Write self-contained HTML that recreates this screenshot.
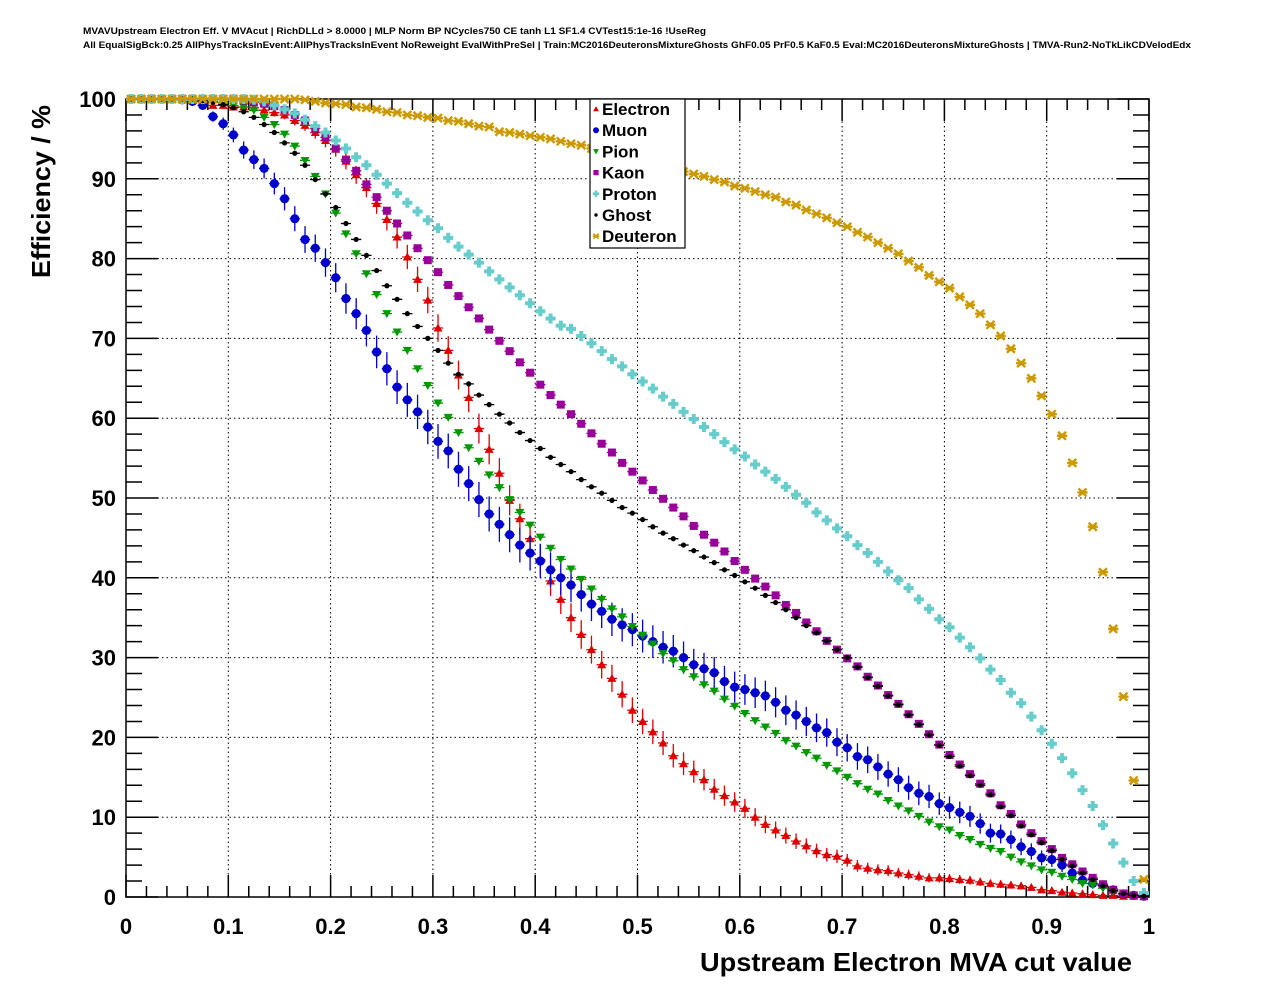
<!DOCTYPE html>
<html><head><meta charset="utf-8"><style>
html,body{margin:0;padding:0;background:#fff;}
svg{display:block;font-family:"Liberation Sans",Arial,sans-serif;}
</style></head><body>
<svg id="chart" width="1276" height="996" viewBox="0 0 1276 996" xmlns="http://www.w3.org/2000/svg">
<rect x="0" y="0" width="1276" height="996" fill="#fff"/>
<text x="83" y="34" font-size="9" font-weight="bold" textLength="623" lengthAdjust="spacingAndGlyphs">MVAVUpstream Electron Eff. V MVAcut | RichDLLd &gt; 8.0000 | MLP Norm BP NCycles750 CE tanh L1 SF1.4 CVTest15:1e-16 !UseReg</text>
<text x="83" y="48" font-size="9" font-weight="bold" textLength="1108" lengthAdjust="spacingAndGlyphs">All EqualSigBck:0.25 AllPhysTracksInEvent:AllPhysTracksInEvent NoReweight EvalWithPreSel | Train:MC2016DeuteronsMixtureGhosts GhF0.05 PrF0.5 KaF0.5 Eval:MC2016DeuteronsMixtureGhosts | TMVA-Run2-NoTkLikCDVelodEdx</text>
<g id="grid"></g>
<g id="axes"></g>
<g id="series"></g>
<text x="50" y="278" font-size="26" font-weight="bold" transform="rotate(-90 50 278)" textLength="173" lengthAdjust="spacingAndGlyphs">Efficiency / %</text>
<text x="700" y="971" font-size="26" font-weight="bold" textLength="432" lengthAdjust="spacingAndGlyphs">Upstream Electron MVA cut value</text>
<g id="legend"></g>
</svg>
<script>
const xTicks=[0,0.1,0.2,0.3,0.4,0.5,0.6,0.7,0.8,0.9,1];
const xTickLabels=["0","0.1","0.2","0.3","0.4","0.5","0.6","0.7","0.8","0.9","1"];
const yTicks=[0,10,20,30,40,50,60,70,80,90,100];
const yTickLabels=["0","10","20","30","40","50","60","70","80","90","100"];
const seriesNames=["Electron","Muon","Pion","Kaon","Proton","Ghost","Deuteron"];
const electron=[100,100,100,100,100,99.9,99.8,99.6,99.2,99.2,99.0,99.0,98.9,98.6,98.3,98.0,97.3,96.7,95.8,94.8,93.7,92.2,90.5,88.9,86.9,84.9,82.7,80.2,77.4,74.8,71.3,68.5,65.4,62.6,58.7,56.1,53.1,49.7,47.4,44.9,42.3,39.6,37.3,35.0,32.9,31.0,29.1,27.4,25.4,23.4,22.0,20.7,19.3,17.7,16.7,15.7,14.7,13.5,12.7,11.9,11.1,10.0,9.1,8.4,7.7,7.0,6.4,5.8,5.3,5.1,4.6,3.9,3.6,3.4,3.3,3.0,2.8,2.6,2.4,2.4,2.3,2.2,2.1,1.9,1.7,1.6,1.5,1.4,1.2,0.9,0.8,0.6,0.5,0.4,0.3,0.2,0.2,0.1,0.1,0.05];
const muon=[100,100,100,100,100,99.9,99.7,99.2,97.8,96.9,95.5,93.6,92.4,91.3,89.4,87.5,85.0,82.4,81.3,79.5,77.6,75.0,73.1,71.0,68.3,66.2,63.9,62.3,60.8,58.9,57.1,55.9,53.6,51.8,49.8,48.0,46.7,45.4,44.1,43.1,42.1,41.0,40.0,39.1,37.9,36.7,35.8,34.8,34.1,33.5,32.7,32.0,31.3,30.8,30.0,29.1,28.6,28.1,27.0,26.3,26.0,25.6,25.2,24.4,23.4,22.8,22.0,21.2,20.6,19.4,18.7,17.6,17.2,16.3,15.4,14.7,13.7,13.0,12.6,11.7,11.2,10.6,10.1,9.2,8.0,7.9,7.2,6.3,5.7,4.9,4.7,4.0,3.0,2.1,1.7,1.5,0.9,0.4,0.2,0.1];
const pion=[100,100,100,100,100,100,99.9,99.8,99.7,99.5,99.2,99.0,98.6,97.7,96.8,95.6,94.1,92.3,90.3,88.1,85.7,83.1,80.6,78.1,75.5,73.1,70.8,68.5,66.2,64.1,61.9,60.1,58.2,56.3,54.6,52.9,51.3,49.8,48.2,46.6,45.1,43.7,42.3,41.1,39.8,38.6,37.3,36.1,35.1,33.9,32.8,31.7,30.5,29.6,28.5,27.6,26.6,25.8,24.8,23.9,23.0,22.1,21.3,20.5,19.6,18.9,18.1,17.4,16.5,15.8,15.0,14.2,13.5,12.9,12.1,11.4,10.8,10.1,9.4,8.8,8.4,7.7,7.2,6.6,6.1,5.7,5.0,4.4,3.9,3.4,3.1,2.6,2.2,1.7,1.5,1.1,0.7,0.5,0.2,0.1];
const kaon=[100,100,100,100,100,100,100,100,100,100,99.9,99.8,99.6,99.4,99.1,98.6,98.0,97.3,96.3,95.2,93.8,92.4,91.0,89.3,87.7,86.0,84.4,82.9,81.3,79.8,78.3,76.7,75.3,73.9,72.5,71.1,69.7,68.4,67.0,65.7,64.2,62.9,61.7,60.5,59.3,58.1,56.8,55.7,54.4,53.3,52.2,51.0,49.9,48.8,47.7,46.5,45.4,44.4,43.3,42.1,41.0,39.9,38.9,37.8,36.6,35.6,34.4,33.3,32.1,31.0,29.9,28.9,27.6,26.5,25.3,24.2,22.9,21.7,20.4,19.1,17.8,16.6,15.4,14.2,13.0,11.5,10.4,9.1,8.0,7.0,6.0,4.9,4.1,3.2,2.4,1.6,0.9,0.4,0.2,0.1];
const proton=[100,100,100,100,100,100,100,100,100,100,100,100,99.9,99.7,99.2,98.7,98.2,97.4,96.6,95.8,94.8,93.8,92.7,91.7,90.5,89.4,88.2,87.0,85.9,84.8,83.8,82.6,81.5,80.5,79.5,78.4,77.4,76.4,75.4,74.4,73.4,72.5,71.6,71.2,70.3,69.4,68.4,67.4,66.5,65.5,64.6,63.7,62.7,61.8,60.8,59.9,58.9,58.0,57.0,56.1,55.2,54.2,53.3,52.4,51.4,50.4,49.4,48.2,47.2,46.2,45.2,44.1,43.1,42.0,40.8,39.7,38.7,37.3,36.1,34.8,33.8,32.5,31.3,29.9,28.5,27.2,25.6,24.3,22.6,20.9,19.2,17.4,15.5,13.4,11.4,9.0,6.7,4.3,2.0,0.5];
const ghost=[100,100,100,100,100,100,100,99.8,99.6,99.3,98.9,98.4,97.7,96.8,95.8,94.5,93.2,91.7,89.9,88.1,86.4,84.4,82.4,80.4,78.5,76.6,74.9,73.1,71.5,70.0,68.5,66.9,65.5,64.3,62.9,61.7,60.5,59.4,58.2,57.2,56.2,55.1,54.2,53.3,52.3,51.4,50.6,49.7,48.8,48.1,47.3,46.4,45.6,44.9,44.1,43.4,42.6,41.9,41.0,40.3,39.5,38.7,37.8,36.9,36.0,35.0,34.0,33.1,32.1,31.0,30.0,28.8,27.5,26.4,25.2,24.1,22.8,21.6,20.3,19.0,17.6,16.4,15.2,14.0,12.8,11.3,10.2,8.9,7.8,6.8,5.8,4.7,3.9,3.0,2.2,1.4,0.8,0.4,0.2,0.1];
const deuteron=[100,100,100,100,100,100,100,100,100,100,100,100,100,100,100,100,100,99.9,99.7,99.5,99.4,99.3,99.0,98.9,98.7,98.4,98.3,98.0,97.9,97.7,97.6,97.3,97.2,96.9,96.6,96.5,95.9,95.8,95.6,95.4,95.2,95.0,94.7,94.4,94.2,93.8,93.5,93.2,92.8,92.5,92.1,91.8,91.5,91.1,90.9,90.6,90.3,89.9,89.6,89.1,88.8,88.4,88.0,87.7,87.1,86.7,86.1,85.6,85.1,84.5,84.0,83.3,82.7,82.0,81.3,80.6,79.7,78.9,77.9,77.1,76.3,75.2,74.2,73.1,71.7,70.3,68.7,66.9,65.0,62.8,60.5,57.8,54.4,50.7,46.4,40.7,33.6,25.1,14.6,2.2];

const NS='http://www.w3.org/2000/svg';
const X0=126,X1=1149,Y0=897,Y1=99;
function sx(v){return X0+(X1-X0)*v;}
function sy(v){return Y0-(Y0-Y1)*v/100;}
function mk(tag,attrs,parent){const e=document.createElementNS(NS,tag);for(const k in attrs)e.setAttribute(k,attrs[k]);parent.appendChild(e);return e;}

const grid=document.getElementById('grid');
const axes=document.getElementById('axes');
xTicks.forEach((t,i)=>{
  if(i>0&&i<xTicks.length-1){
    const g=mk('line',{x1:sx(t),x2:sx(t),y1:Y1,y2:Y0,stroke:'#000','stroke-width':1,'stroke-dasharray':'1.5,3'},grid);
    
    
  }
  const tl=mk('text',{x:sx(t),y:934,'font-size':22,'font-weight':'bold','text-anchor':'middle'},axes);
  tl.textContent=xTickLabels[i];
  
  
});
yTicks.forEach((t,i)=>{
  if(i>0&&i<yTicks.length-1){
    const g=mk('line',{x1:X0,x2:X1,y1:sy(t),y2:sy(t),stroke:'#000','stroke-width':1,'stroke-dasharray':'1.5,3'},grid);
    
    
  }
  const tl=mk('text',{x:116,y:sy(t)+8,'font-size':22,'font-weight':'bold','text-anchor':'end'},axes);
  tl.textContent=yTickLabels[i];
  
  
});
let d='';
for(let k=0;k<=50;k++){const x=sx(k/50);const L=(k%5===0)?22:11;d+=`M${x},${Y0}v${-L}M${x},${Y1}v${L}`;}
for(let k=0;k<=50;k++){const y=sy(k*2);const L=(k%5===0)?32:16;d+=`M${X0},${y}h${L}M${X1},${y}h${-L}`;}
const tk=mk('path',{d:d,stroke:'#000','stroke-width':1.5,fill:'none'},axes);


const fr=mk('rect',{x:X0,y:Y1,width:X1-X0,height:Y0-Y1,fill:'none',stroke:'#000','stroke-width':1.5},axes);



const colors=['#dd0000','#0000cc','#009900','#990099','#66cccc','#000000','#cc9900'];
const shapes=['tri','circle','tridown','square','cross','diamond','star'];
const allData=[electron,muon,pion,kaon,proton,ghost,deuteron];
const errK=[1.9,2.2,0.35,0.3,0.3,0.3,0.3];

function marker(shape,x,y,c,parent,s){
  s=s||1;
  let e;
  if(shape==='tri') e=mk('path',{d:`M${x},${y-4.5*s}L${x+4.5*s},${y+3.5*s}L${x-4.5*s},${y+3.5*s}Z`,fill:c},parent);
  else if(shape==='tridown') e=mk('path',{d:`M${x},${y+4.5*s}L${x+4.5*s},${y-3.5*s}L${x-4.5*s},${y-3.5*s}Z`,fill:c},parent);
  else if(shape==='circle') e=mk('circle',{cx:x,cy:y,r:4.6*s,fill:c},parent);
  else if(shape==='square') e=mk('rect',{x:x-4*s,y:y-4*s,width:8*s,height:8*s,fill:c},parent);
  else if(shape==='cross') e=mk('path',{d:`M${x-5*s},${y}h${10*s}M${x},${y-5*s}v${10*s}`,stroke:c,'stroke-width':4*s,fill:'none'},parent);
  else if(shape==='diamond') e=mk('circle',{cx:x,cy:y,r:2.6*s,fill:c},parent);
  else e=mk('path',{d:`M${x-4*s},${y-4*s}L${x+4*s},${y+4*s}M${x+4*s},${y-4*s}L${x-4*s},${y+4*s}M${x-5*s},${y}h${10*s}`,stroke:c,'stroke-width':2.4*s,fill:'none'},parent);
  return e;
}

const sl=document.getElementById('series');
allData.forEach((arr,si)=>{
  const g=mk('g',{},sl);
  
  
  arr.forEach((v,i)=>{
    const xc=(i+0.5)/100;
    const px=sx(xc),py=sy(v);
    const err=errK[si]*Math.sqrt(Math.max(v*(100-v),0))/50;
    const eb=mk('path',{d:`M${sx(i/100)},${py}H${sx((i+1)/100)}M${px},${sy(Math.min(v+err,100))}V${sy(Math.max(v-err,0))}`,stroke:colors[si],'stroke-width':1.3,fill:'none'},g);
    
    
    const m=marker(shapes[si],px,py,colors[si],g);
    
    
  });
});

const lg=document.getElementById('legend');
const lb=mk('rect',{x:590,y:99,width:95,height:149,fill:'#fff',stroke:'#000','stroke-width':1.2},lg);


seriesNames.forEach((n,i)=>{
  const y=109+i*21.2;
  const g=mk('g',{},lg);
  
  
  marker(shapes[i],596,y,colors[i],g,0.65);
  const t=mk('text',{x:602,y:y+6,'font-size':17,'font-weight':'bold'},g);
  t.textContent=n;
});
</script>
</body></html>
